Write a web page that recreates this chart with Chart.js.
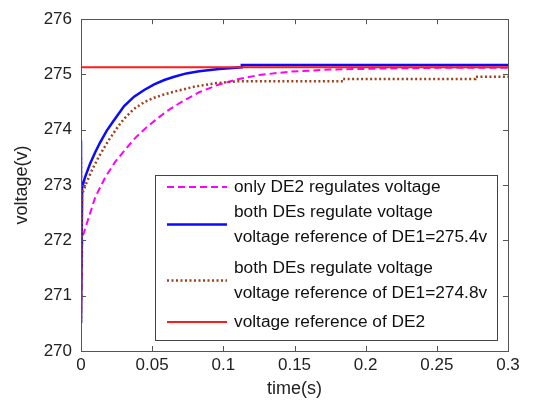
<!DOCTYPE html>
<html>
<head>
<meta charset="utf-8">
<script src="https://cdn.jsdelivr.net/npm/chart.js@4.4.1/dist/chart.umd.min.js"></script>
<style>
  html, body { margin: 0; padding: 0; background: #fff; }
</style>
</head>
<body>
<canvas id="voltChart" width="543" height="405"></canvas>
<script>
// values
const xTicks = [0, 0.05, 0.1, 0.15, 0.2, 0.25, 0.3];
const xTickLabels = ["0", "0.05", "0.1", "0.15", "0.2", "0.25", "0.3"];
const yTicks = [270, 271, 272, 273, 274, 275, 276];

const onlyDE2Time = [0, 0.001, 0.0055, 0.01, 0.017, 0.024, 0.031, 0.038, 0.045, 0.052, 0.06, 0.069, 0.083, 0.097, 0.111, 0.125, 0.146, 0.175, 0.217, 0.25, 0.3];
const onlyDE2Volt = [270.5, 272.06, 272.42, 272.78, 273.14, 273.42, 273.64, 273.85, 274.02, 274.17, 274.33, 274.48, 274.68, 274.82, 274.92, 274.99, 275.05, 275.09, 275.11, 275.12, 275.12];

const both1Time = [0, 0, 0.0008, 0.0028, 0.0063, 0.0099, 0.0134, 0.018, 0.0228, 0.0303, 0.0373, 0.0444, 0.0514, 0.0585, 0.0655, 0.074, 0.083, 0.097, 0.113, 0.113, 0.3];
const both1Volt = [273.8, 270.5, 272.96, 273.14, 273.38, 273.59, 273.77, 273.98, 274.16, 274.43, 274.6, 274.72, 274.82, 274.9, 274.96, 275.02, 275.06, 275.1, 275.13, 275.17, 275.17];

const both2Time = [0, 0, 0.0008, 0.004, 0.0075, 0.0122, 0.0192, 0.0263, 0.0303, 0.0373, 0.0444, 0.0514, 0.0585, 0.0655, 0.0796, 0.0937, 0.111, 0.125, 0.184, 0.184, 0.277, 0.277, 0.3];
const both2Volt = [273.5, 270.5, 272.84, 273.05, 273.26, 273.5, 273.8, 274.07, 274.2, 274.38, 274.5, 274.58, 274.64, 274.69, 274.78, 274.84, 274.88, 274.88, 274.88, 274.92, 274.92, 274.96, 274.96];

const refDE2Time = [0, 0.3];
const refDE2Volt = [275.13, 275.13];

const legendLabels = [
  ["only DE2 regulates voltage"],
  ["both DEs regulate voltage", "voltage reference of DE1=275.4v"],
  ["both DEs regulate voltage", "voltage reference of DE1=274.8v"],
  ["voltage reference of DE2"]
];

function toPoints(ts, vs) {
  return ts.map((t, i) => ({ x: t, y: vs[i] }));
}

const FONT = "'Liberation Sans', Arial, sans-serif";

// MATLAB style box with inward ticks
const boxPlugin = {
  id: "boxTicks",
  afterDatasetsDraw(chart) {
    const { ctx, chartArea: a, scales: { x, y } } = chart;
    ctx.save();
    ctx.strokeStyle = "#555";
    ctx.lineWidth = 1;
    ctx.beginPath();
    xTicks.forEach(v => {
      const px = Math.round(x.getPixelForValue(v)) + 0.5;
      ctx.moveTo(px, a.bottom); ctx.lineTo(px, a.bottom - 5);
      ctx.moveTo(px, a.top); ctx.lineTo(px, a.top + 5);
    });
    yTicks.forEach(v => {
      const py = Math.round(y.getPixelForValue(v)) + 0.5;
      ctx.moveTo(a.left, py); ctx.lineTo(a.left + 5, py);
      ctx.moveTo(a.right, py); ctx.lineTo(a.right - 5, py);
    });
    ctx.stroke();
    ctx.strokeRect(Math.round(a.left) + 0.5, Math.round(a.top) + 0.5,
      Math.round(a.right - a.left), Math.round(a.bottom - a.top));
    ctx.restore();
  }
};

// legend box inside the axes
const legendPlugin = {
  id: "boxLegend",
  afterDraw(chart) {
    const { ctx } = chart;
    const bx = 155, by = 175, bw = 342, bh = 165;
    const rowTop = [187, 212, 268, 322];
    ctx.save();
    ctx.fillStyle = "#fff";
    ctx.fillRect(bx, by, bw, bh);
    ctx.strokeStyle = "#444";
    ctx.lineWidth = 1;
    ctx.strokeRect(bx + 0.5, by + 0.5, bw, bh);
    ctx.font = "17.3px " + FONT;
    ctx.textBaseline = "middle";
    ctx.fillStyle = "#111";
    chart.data.datasets.forEach((ds, i) => {
      const lines = legendLabels[i];
      const top = rowTop[i];
      const midY = top + (lines.length - 1) * 12.5;
      ctx.beginPath();
      ctx.strokeStyle = ds.borderColor;
      ctx.lineWidth = ds.borderWidth;
      ctx.setLineDash(ds.borderDash || []);
      ctx.moveTo(167, midY); ctx.lineTo(227, midY);
      ctx.stroke();
      ctx.setLineDash([]);
      lines.forEach((s, k) => ctx.fillText(s, 234, top + k * 25));
    });
    ctx.restore();
  }
};

new Chart(document.getElementById("voltChart"), {
  type: "line",
  data: {
    datasets: [
      {
        data: toPoints(onlyDE2Time, onlyDE2Volt),
        borderColor: "#ff00ff",
        borderWidth: 2,
        borderDash: [7, 4],
        order: 4
      },
      {
        data: toPoints(both1Time, both1Volt),
        borderColor: "#0a0aff",
        borderWidth: 2.5,
        order: 3
      },
      {
        data: toPoints(both2Time, both2Volt),
        borderColor: "#a0401a",
        borderWidth: 2.5,
        borderDash: [2, 2.5],
        order: 2
      },
      {
        data: toPoints(refDE2Time, refDE2Volt),
        borderColor: "#ff1a1a",
        borderWidth: 2,
        order: 1
      }
    ]
  },
  options: {
    responsive: false,
    animation: false,
    devicePixelRatio: 1,
    layout: { padding: { top: 18, right: 35, left: 0, bottom: 0 } },
    elements: { point: { radius: 0 }, line: { tension: 0 } },
    plugins: { legend: { display: false }, tooltip: { enabled: false } },
    scales: {
      x: {
        type: "linear",
        min: 0,
        max: 0.3,
        afterBuildTicks: s => { s.ticks = xTicks.map(v => ({ value: v })); },
        afterFit: s => { s.height = 54; },
        grid: { display: false, drawTicks: false },
        border: { display: false },
        ticks: {
          color: "#222",
          font: { family: FONT, size: 17 },
          padding: 4,
          maxRotation: 0,
          callback: (v, i) => xTickLabels[i]
        },
        title: {
          display: true,
          text: "time(s)",
          color: "#222",
          font: { family: FONT, size: 18 },
          padding: { top: 0, bottom: 5 }
        }
      },
      y: {
        min: 270,
        max: 276,
        afterBuildTicks: s => { s.ticks = yTicks.map(v => ({ value: v })); },
        afterFit: s => { s.width = 81; },
        grid: { display: false, drawTicks: false },
        border: { display: false },
        ticks: {
          color: "#222",
          font: { family: FONT, size: 17 },
          padding: 9,
          callback: v => String(v)
        },
        title: {
          display: true,
          text: "voltage(v)",
          color: "#222",
          font: { family: FONT, size: 18 },
          padding: { top: 11, bottom: 0 }
        }
      }
    }
  },
  plugins: [boxPlugin, legendPlugin]
});
</script>
</body>
</html>
